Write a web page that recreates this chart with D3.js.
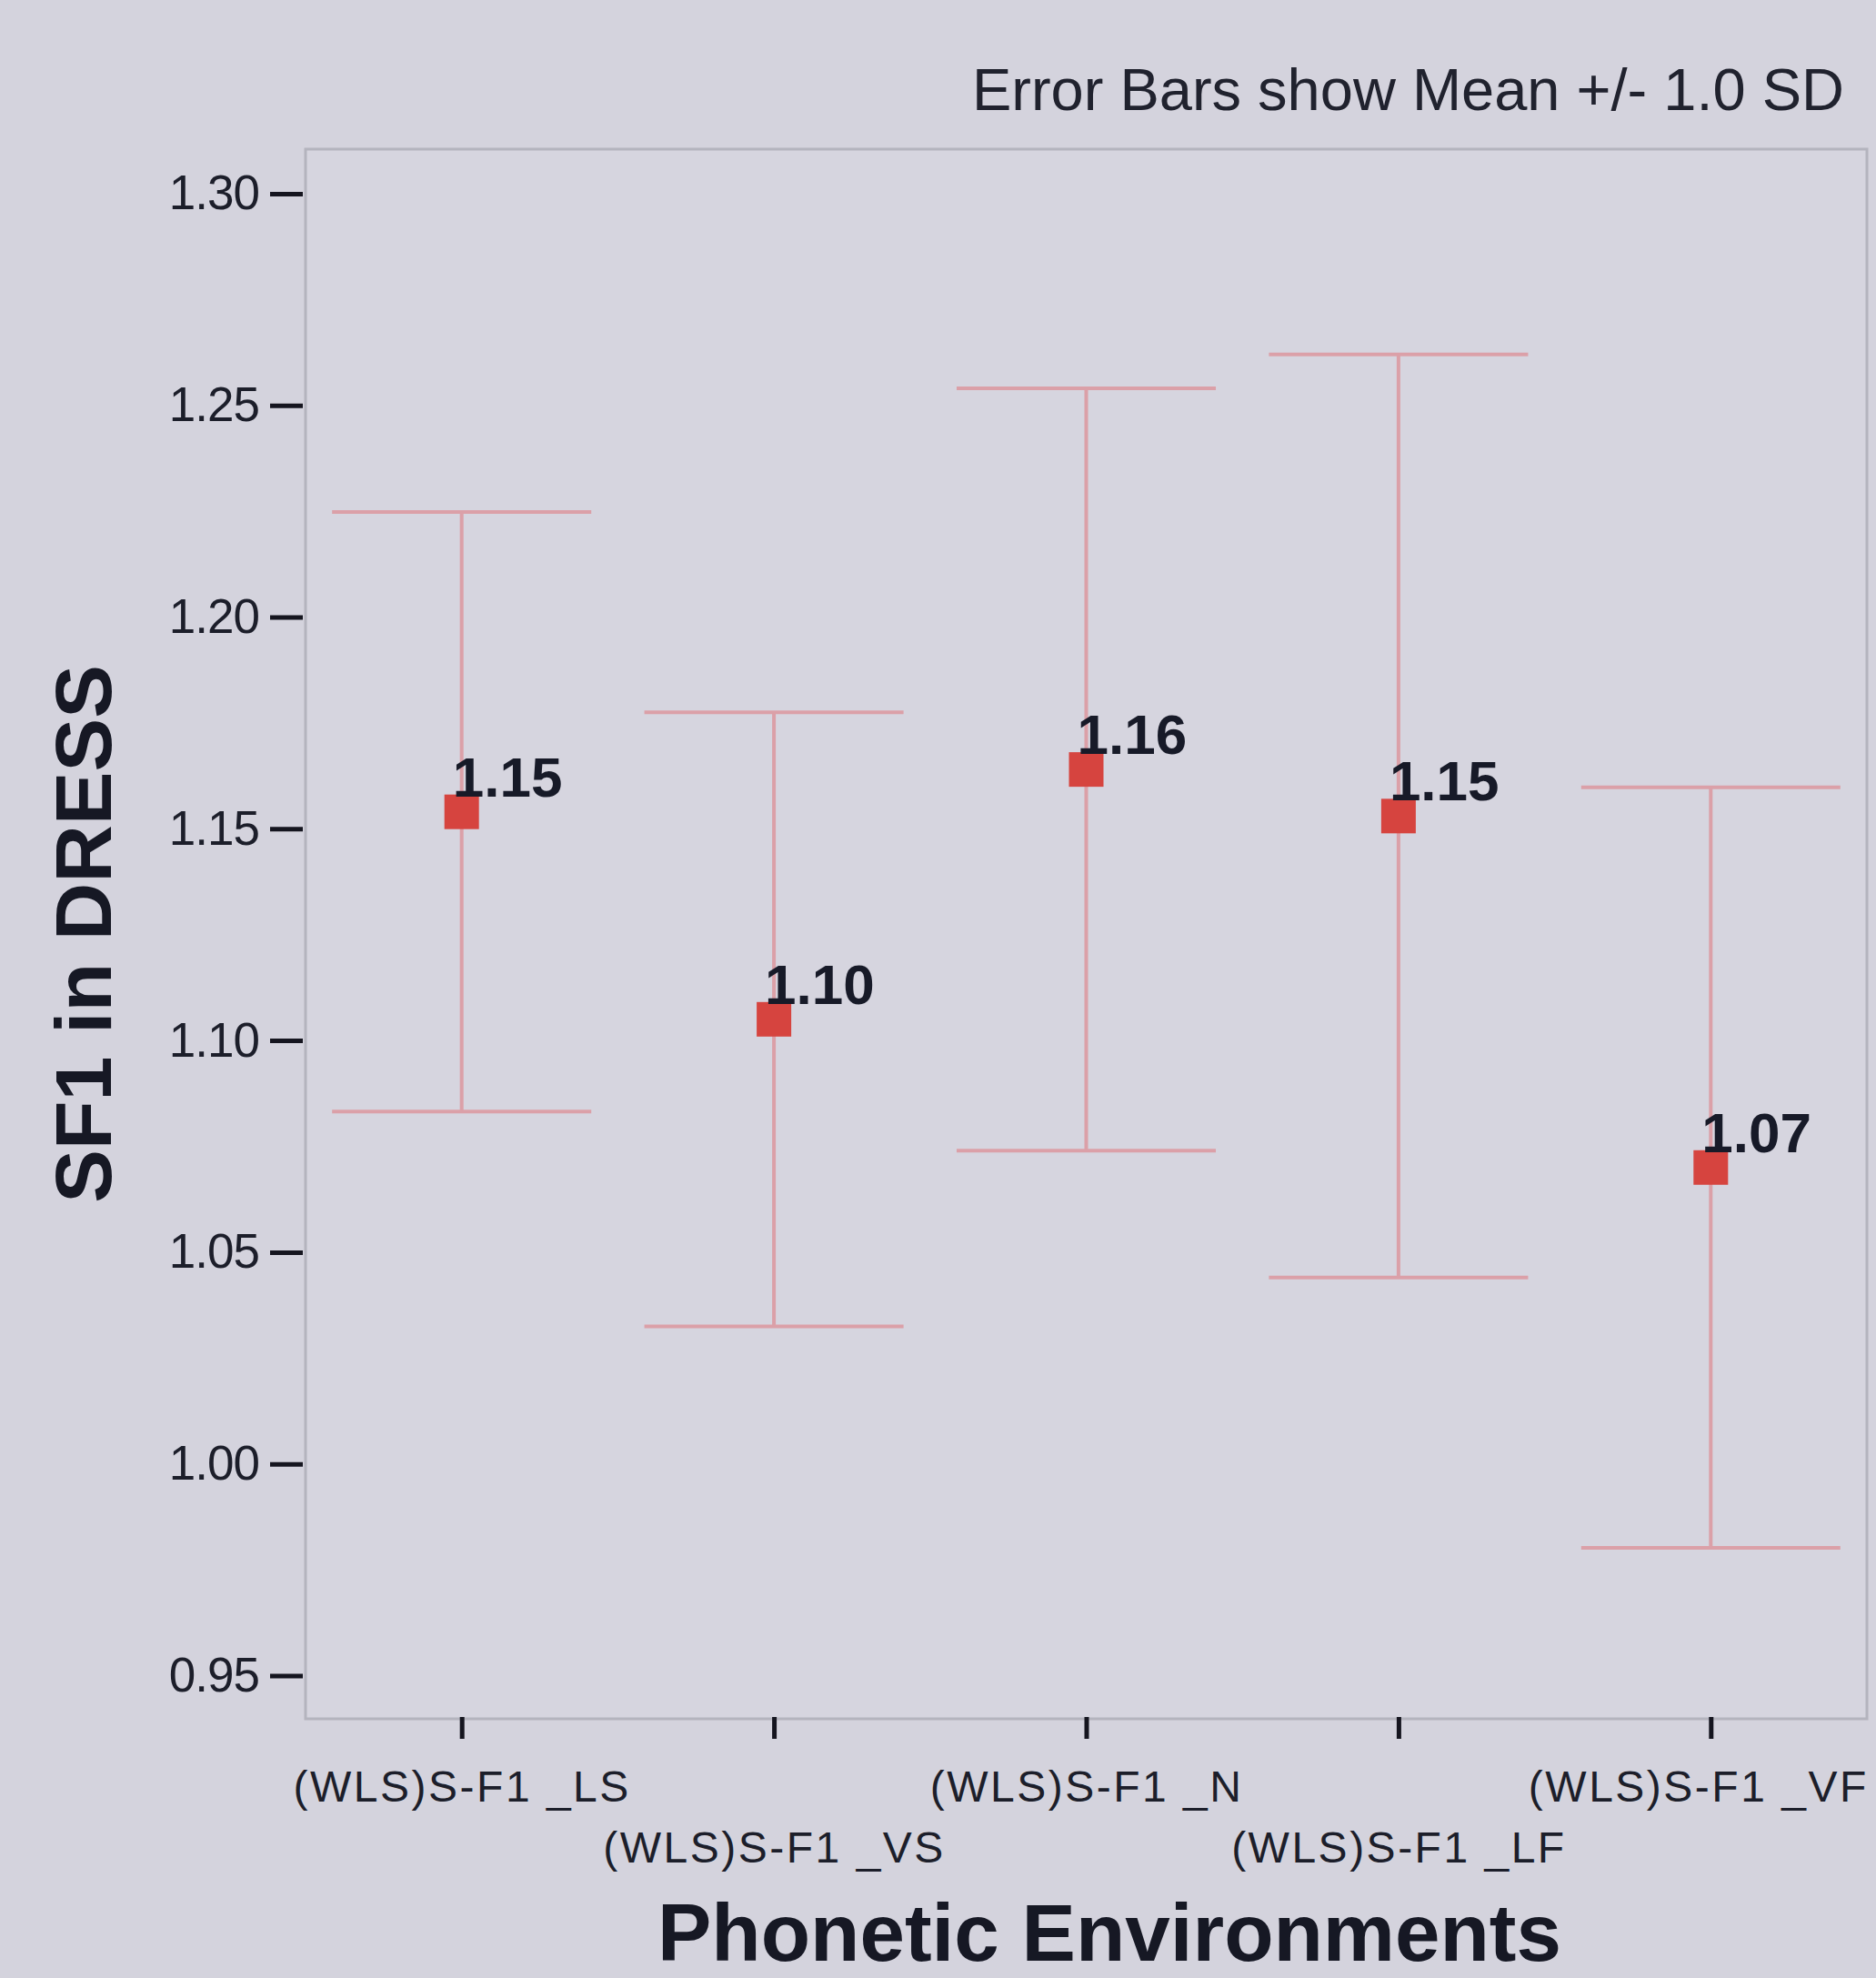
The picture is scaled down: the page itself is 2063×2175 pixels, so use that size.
<!DOCTYPE html>
<html>
<head>
<meta charset="utf-8">
<script src="https://cdn.jsdelivr.net/npm/d3@7"></script>
<style>
  body { margin: 0; background: #d4d3dd; }
  svg { display: block; font-family: Arial, "Liberation Sans", sans-serif; }
</style>
</head>
<body>
<svg width="2063" height="2175"></svg>
<script>
// Categories (phonetic environments) and their SF1 means / SDs
const categories = ["(WLS)S-F1 _LS", "(WLS)S-F1 _VS", "(WLS)S-F1 _N", "(WLS)S-F1 _LF", "(WLS)S-F1 _VF"];
const means = [1.154, 1.105, 1.164, 1.153, 1.070];
const sds = [0.0708, 0.0725, 0.0900, 0.1090, 0.0898];
const yTicks = [0.95, 1.00, 1.05, 1.10, 1.15, 1.20, 1.25, 1.30];

const svg = d3.select("svg");

// plot frame
const frame = { left: 336, right: 2053, top: 164, bottom: 1890 };

const x = d3.scalePoint()
    .domain(categories)
    .range([frame.left, frame.right])
    .padding(0.5);

const y = d3.scaleLinear()
    .domain([0.9398, 1.3105])
    .range([frame.bottom, frame.top]);

const fmt = d3.format(".2f");

// background of plot
svg.append("rect")
    .attr("x", frame.left)
    .attr("y", frame.top)
    .attr("width", frame.right - frame.left)
    .attr("height", frame.bottom - frame.top)
    .attr("fill", "#d6d5df")
    .attr("stroke", "#b4b4be")
    .attr("stroke-width", 3);

// note at top right
svg.append("text")
    .attr("x", 2028)
    .attr("y", 121)
    .attr("text-anchor", "end")
    .attr("font-size", 65)
    .attr("fill", "#20222e")
    .text("Error Bars show Mean +/- 1.0 SD");

// y axis
const yAxis = svg.append("g")
    .attr("transform", `translate(${frame.left - 3},0)`)
    .call(d3.axisLeft(y).tickValues(yTicks).tickFormat(fmt).tickSize(36).tickPadding(12));
yAxis.select(".domain").remove();
yAxis.selectAll(".tick line").attr("stroke", "#15151f").attr("stroke-width", 5);
yAxis.selectAll(".tick text")
    .attr("font-size", 53)
    .attr("letter-spacing", -1)
    .attr("fill", "#1c1e2a");

// x axis
const xAxis = svg.append("g")
    .attr("transform", `translate(0,${frame.bottom - 2})`)
    .call(d3.axisBottom(x).tickSize(24).tickPadding(0));
xAxis.select(".domain").remove();
xAxis.selectAll(".tick line").attr("stroke", "#15151f").attr("stroke-width", 5);
xAxis.selectAll(".tick text")
    .attr("dy", 0)
    .attr("y", (d, i) => i % 2 === 0 ? 93 : 160)
    // last label sits at the right edge, nudge it in so it stays readable
    .attr("x", (d, i) => i === categories.length - 1 ? -14 : 0)
    .attr("font-size", 48)
    .attr("letter-spacing", 2.5)
    .attr("fill", "#1c1e2a");

// axis titles
svg.append("text")
    .attr("x", 1220)
    .attr("y", 2156)
    .attr("text-anchor", "middle")
    .attr("font-size", 89)
    .attr("font-weight", "bold")
    .attr("fill", "#161824")
    .text("Phonetic Environments");

svg.append("text")
    .attr("transform", `translate(122,${(frame.top + frame.bottom) / 2}) rotate(-90)`)
    .attr("text-anchor", "middle")
    .attr("font-size", 88)
    .attr("font-weight", "bold")
    .attr("fill", "#161824")
    .text("SF1 in DRESS");

// error bars
const capHalf = x.step() * 0.415;
const barColor = "#dba0a8";
const bars = svg.append("g")
    .selectAll("g")
    .data(categories)
    .enter().append("g");

bars.append("line")
    .attr("x1", d => x(d)).attr("x2", d => x(d))
    .attr("y1", (d, i) => y(means[i] + sds[i]))
    .attr("y2", (d, i) => y(means[i] - sds[i]))
    .attr("stroke", barColor).attr("stroke-width", 4);

bars.append("line")
    .attr("x1", d => x(d) - capHalf).attr("x2", d => x(d) + capHalf)
    .attr("y1", (d, i) => y(means[i] + sds[i]))
    .attr("y2", (d, i) => y(means[i] + sds[i]))
    .attr("stroke", barColor).attr("stroke-width", 4);

bars.append("line")
    .attr("x1", d => x(d) - capHalf).attr("x2", d => x(d) + capHalf)
    .attr("y1", (d, i) => y(means[i] - sds[i]))
    .attr("y2", (d, i) => y(means[i] - sds[i]))
    .attr("stroke", barColor).attr("stroke-width", 4);

// mean markers
const m = 38;
bars.append("rect")
    .attr("x", d => x(d) - m / 2)
    .attr("y", (d, i) => y(means[i]) - m / 2)
    .attr("width", m)
    .attr("height", m)
    .attr("fill", "#d6443f");

// mean labels
bars.append("text")
    .attr("x", d => x(d) - 10)
    .attr("y", (d, i) => y(means[i]) - 17)
    .attr("font-size", 62)
    .attr("font-weight", "bold")
    .attr("fill", "#171a28")
    .text((d, i) => fmt(means[i]));
</script>
</body>
</html>
